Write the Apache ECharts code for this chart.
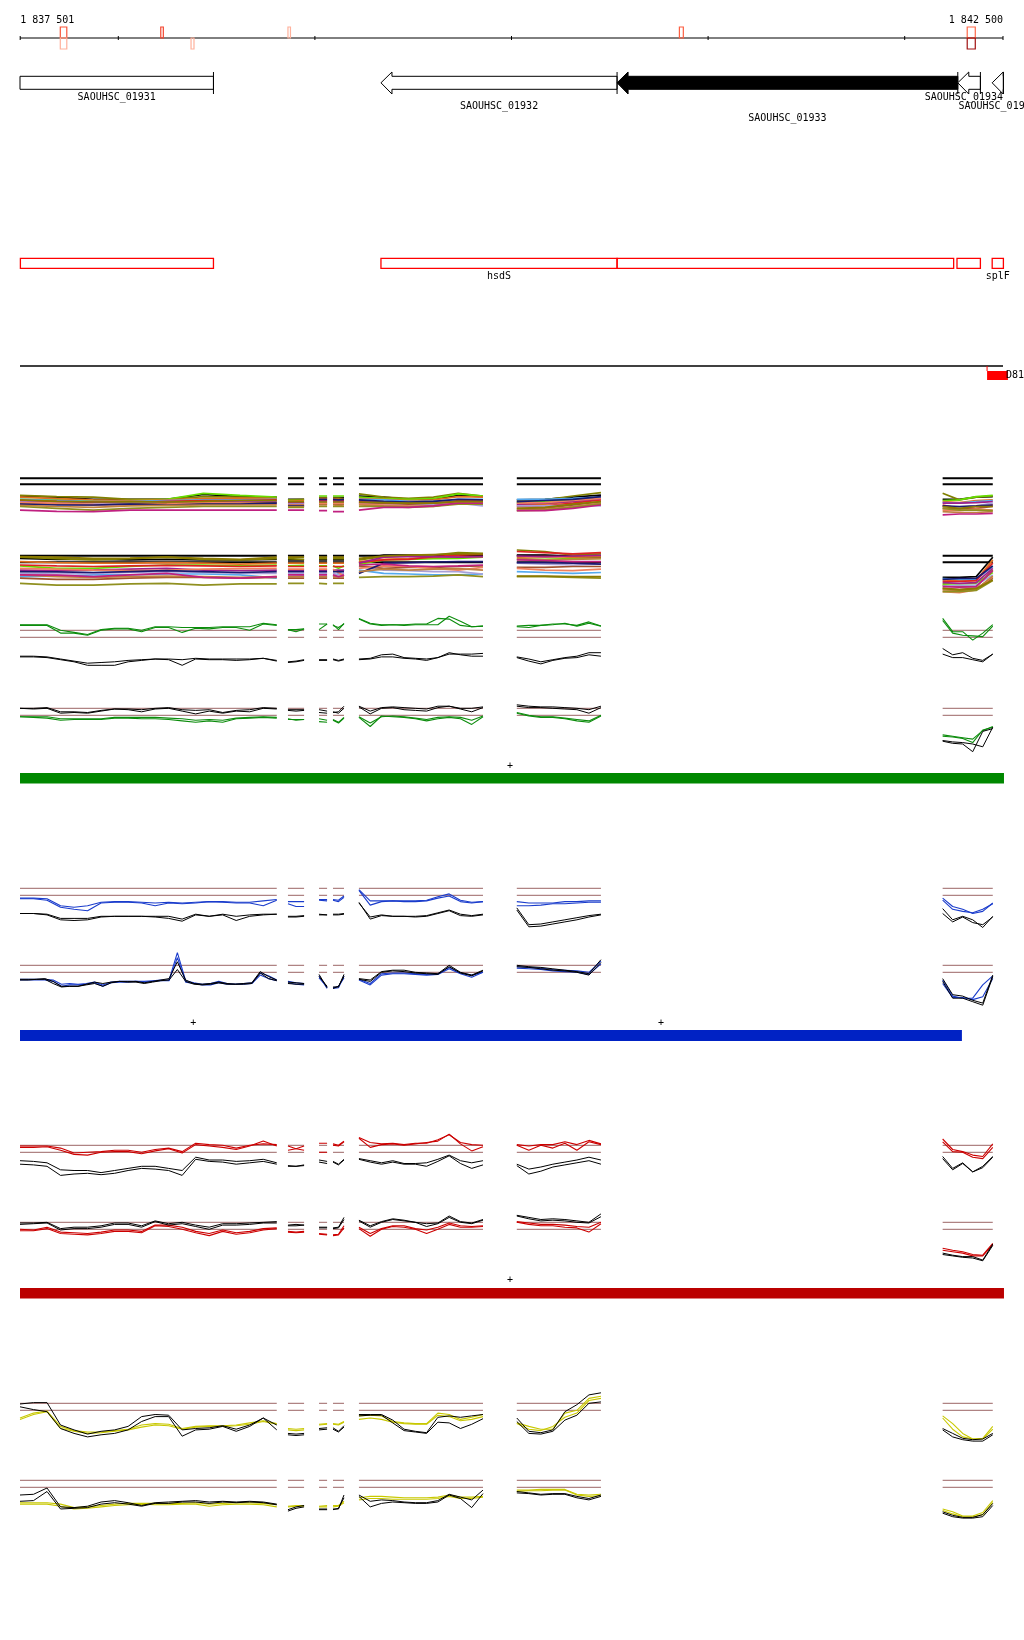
<!DOCTYPE html>
<html><head><meta charset="utf-8">
<script src="https://cdn.jsdelivr.net/npm/echarts@6/dist/echarts.min.js"></script>
<style>html,body{margin:0;padding:0;background:#fff}#c{width:1024px;height:1640px}</style>
</head><body><div id="c"></div>
<script>
// ---------------- DATA ----------------
const VIEW = [1837500, 1842500];
const TICKS = [1837501, 1838000, 1839000, 1840000, 1841000, 1842000, 1842500];
const TICK_LABELS = ['1 837 501', '', '', '', '', '', '1 842 500'];

const SIGNAL_START = [1837705, 1838216, 1838370, 1838863, 1840854, 1842318];
const SIGNAL_END   = [1837738, 1838229, 1838385, 1838875, 1840874, 1842359];
const SIGNAL_FWD   = [0.6, 0.7, 0, 0.2, 0.55, 0.5];
const SIGNAL_REV   = [0.2, 0, 0.2, 0, 0, 1.0];

const GENE_NAMES  = ['SAOUHSC_01931', 'SAOUHSC_01932', 'SAOUHSC_01933', 'SAOUHSC_01934', 'SAOUHSC_01935'];
const GENE_START  = [1837400, 1839336, 1840537, 1842270, 1842445];
const GENE_END    = [1838484, 1840537, 1842270, 1842385, 1842502];
const GENE_STRAND = [-1, -1, -1, -1, -1];
const GENE_HIGHLIGHT = [0, 0, 1, 0, 0];
const GENE_LABEL_LEVEL = [0, 1, 2, 0, 1];

const FEAT_START = [1837502, 1839336, 1840537, 1842266, 1842445];
const FEAT_END   = [1838484, 1840537, 1842249, 1842385, 1842502];
const FEAT_LABEL = ['', 'hsdS', '', '', 'splF'];

const REGION_START = [1842419];
const REGION_END   = [1842525];
const REGION_LABEL = ['D81'];

const BAR_START = [1837500, 1837500, 1837500];
const BAR_END   = [1842505, 1842291, 1842505];
const PLUS_POS  = [1839992, 1838381, 1840760, 1839992];

const SEG_START = [1837500, 1838863, 1839021, 1839092, 1839224, 1840027, 1842193];
const SEG_END   = [1838806, 1838945, 1839062, 1839148, 1839855, 1840455, 1842448];

// green panel a
const GA_C1 = [[1.8,1.8,1.8,1.0,0.7,0.4,1.1,1.3,1.3,1.0,1.5,1.5,1.4,1.4,1.4,1.5,1.5,1.5,2.0,1.8],[1.1,1.1,1.2],[1.9,1.9],[1.8,1.1,2.0],[2.7,2.0,1.8,1.8,1.8,1.9,1.9,2.7,2.6,1.7,1.5,1.6],[1.6,1.7,1.7,1.9,1.9,1.7,2.2,1.6],[2.7,0.8,0.8,-0.4,0.6,1.8]];
const GA_C2 = [[1.7,1.7,1.7,0.6,0.6,0.3,1.0,1.2,1.2,0.8,1.4,1.4,0.7,1.3,1.2,1.4,1.4,1.0,1.9,1.7],[1.1,0.8,1.2],[1.1,1.9],[1.7,1.4,1.9],[2.6,1.9,1.7,1.8,1.7,1.8,1.8,1.8,3.0,2.3,1.5,1.6],[1.5,1.4,1.7,1.8,2.0,1.6,2.0,1.6],[2.4,0.6,0.3,0.2,0.1,1.6]];
const GA_K1 = [[-2.7,-2.7,-2.8,-3.1,-3.4,-3.7,-3.6,-3.5,-3.3,-3.2,-3.1,-3.1,-3.2,-3.0,-3.1,-3.1,-3.1,-3.1,-3.0,-3.3],[-3.5,-3.4,-3.2],[-3.2,-3.2],[-3.1,-3.3,-3.1],[-3.1,-3.0,-2.5,-2.4,-2.9,-3.0,-3.1,-2.9,-2.4,-2.4,-2.4,-2.3],[-2.8,-3.1,-3.5,-3.2,-2.9,-2.7,-2.2,-2.2],[-1.6,-2.5,-2.2,-3.0,-3.3,-2.4]];
const GA_K2 = [[-2.8,-2.8,-2.9,-3.2,-3.5,-4.0,-4.0,-4.0,-3.5,-3.3,-3.1,-3.2,-4.0,-3.1,-3.2,-3.2,-3.3,-3.2,-3.0,-3.4],[-3.6,-3.5,-3.3],[-3.3,-3.3],[-3.2,-3.4,-3.2],[-3.2,-3.1,-2.8,-2.8,-3.0,-3.1,-3.3,-2.9,-2.2,-2.5,-2.7,-2.7],[-2.9,-3.4,-3.8,-3.3,-3.0,-2.9,-2.5,-2.7],[-2.4,-2.9,-2.9,-3.2,-3.5,-2.4]];
// green panel b
const GB_C1 = [[-0.2,-0.2,-0.2,-0.5,-0.5,-0.5,-0.5,-0.3,-0.3,-0.3,-0.3,-0.4,-0.5,-0.7,-0.6,-0.7,-0.4,-0.3,-0.2,-0.3],[-0.6,-0.6,-0.6],[-0.5,-0.7],[-0.6,-1.0,-0.3],[-0.2,-1.1,-0.2,-0.1,-0.2,-0.4,-0.6,-0.3,-0.2,-0.3,-0.7,-0.1],[0.4,0.0,-0.2,-0.2,-0.4,-0.6,-0.8,0.0],[-2.8,-3.0,-3.2,-3.4,-2.2,-1.6]];
const GB_C2 = [[-0.2,-0.3,-0.4,-0.7,-0.6,-0.6,-0.6,-0.4,-0.4,-0.5,-0.5,-0.6,-0.8,-1.0,-0.8,-1.0,-0.5,-0.4,-0.3,-0.4],[-0.5,-0.7,-0.6],[-0.9,-1.0],[-0.7,-1.1,-0.4],[-0.3,-1.6,-0.1,-0.2,-0.3,-0.5,-0.8,-0.5,-0.3,-0.5,-1.3,-0.2],[0.3,-0.1,-0.3,-0.3,-0.5,-0.8,-1.0,-0.1],[-3.0,-3.1,-3.3,-3.9,-2.1,-1.7]];
const GB_K1 = [[1.0,1.0,1.1,0.5,0.5,0.4,0.7,0.9,0.9,0.8,1.0,1.1,0.8,0.7,0.8,0.4,0.7,0.8,1.1,1.0],[0.8,0.8,0.8],[0.8,0.6],[0.4,0.5,1.3],[1.3,0.6,1.1,1.2,1.1,1.0,0.9,1.3,1.3,1.0,1.0,1.2],[1.5,1.3,1.2,1.2,1.1,1.0,0.8,1.3],[-3.6,-3.8,-3.9,-4.1,-4.5,-1.7]];
const GB_K2 = [[1.0,0.9,1.0,0.3,0.4,0.3,0.6,0.9,0.8,0.5,0.9,1.0,0.6,0.2,0.6,0.3,0.6,0.5,1.0,0.9],[0.7,0.6,0.7],[0.4,0.3],[0.5,0.3,1.0],[1.2,0.2,1.0,1.1,0.8,0.7,0.6,1.1,1.3,0.9,0.5,1.1],[1.3,1.1,1.1,1.0,0.9,0.8,0.3,1.1],[-3.7,-4.0,-4.1,-5.2,-2.3,-1.9]];
// blue panel a
const BA_C1 = [[-0.4,-0.4,-0.5,-1.5,-1.7,-1.5,-1.0,-0.9,-0.9,-1.0,-1.1,-1.0,-1.1,-1.0,-0.9,-0.9,-1.0,-1.0,-0.8,-0.6],[-0.9,-0.9,-0.9],[-0.6,-0.6],[-0.6,-0.7,-0.1],[0.8,-0.8,-0.8,-0.8,-0.8,-0.8,-0.7,-0.2,0.2,-0.7,-1.0,-0.9],[-0.9,-1.1,-1.1,-1.1,-0.9,-0.9,-0.8,-0.8],[-0.4,-1.6,-2.0,-2.6,-2.3,-1.1]];
const BA_C2 = [[-0.5,-0.5,-0.7,-1.7,-2.0,-2.2,-1.1,-1.0,-1.0,-1.1,-1.5,-1.1,-1.2,-1.1,-0.9,-1.0,-1.1,-1.1,-1.5,-0.7],[-1.2,-1.6,-1.6],[-0.7,-0.8],[-0.7,-0.9,-0.3],[0.7,-1.4,-0.9,-0.8,-0.9,-0.9,-0.8,-0.4,-0.1,-0.9,-1.1,-0.9],[-1.5,-1.5,-1.4,-1.2,-1.2,-1.1,-1.0,-1.0],[-0.7,-2.0,-2.3,-2.5,-2.0,-1.2]];
const BA_K1 = [[-2.6,-2.6,-2.7,-3.3,-3.3,-3.3,-3.0,-3.0,-3.0,-3.0,-3.0,-3.0,-3.4,-2.7,-3.0,-2.7,-3.0,-2.8,-2.7,-2.7],[-3.0,-3.0,-2.9],[-2.7,-2.8],[-2.7,-2.7,-2.6],[-1.1,-3.1,-2.8,-3.0,-3.0,-3.0,-2.9,-2.5,-2.1,-2.7,-2.9,-2.7],[-1.8,-4.2,-4.1,-3.8,-3.5,-3.2,-2.9,-2.7],[-1.9,-3.5,-3.0,-3.5,-4.6,-3.0]];
const BA_K2 = [[-2.6,-2.6,-2.8,-3.5,-3.6,-3.5,-3.1,-3.0,-3.0,-3.0,-3.1,-3.3,-3.7,-2.8,-3.0,-2.8,-3.6,-3.0,-2.8,-2.7],[-3.1,-3.1,-3.0],[-2.8,-2.8],[-2.8,-2.8,-2.7],[-1.0,-3.4,-2.9,-3.0,-3.0,-3.1,-3.0,-2.6,-2.2,-2.9,-3.0,-2.8],[-2.1,-4.5,-4.4,-4.1,-3.8,-3.5,-3.1,-2.8],[-2.6,-3.8,-3.1,-3.9,-4.2,-3.1]];
// blue panel b
const BB_C1 = [[-1.0,-1.0,-1.0,-1.0,-1.1,-1.7,-1.6,-1.7,-1.6,-1.4,-1.8,-1.4,-1.3,-1.3,-1.3,-1.3,-1.2,-1.1,-1.1,2.8,-1.2,-1.5,-1.7,-1.6,-1.3,-1.6,-1.7,-1.6,-1.5,-0.1,-0.5,-1.1],[-1.3,-1.5,-1.6],[-0.5,-2.3],[-2.3,-2.2,-0.5],[-1.0,-1.6,-0.2,-0.1,-0.1,-0.2,-0.3,-0.2,0.7,-0.1,-0.4,0.0],[0.8,0.7,0.6,0.4,0.3,0.2,0.0,1.6],[-1.1,-3.4,-3.7,-3.7,-1.8,-0.5]];
const BB_C2 = [[-1.1,-1.1,-1.1,-1.1,-1.3,-2.0,-1.8,-1.8,-1.7,-1.5,-2.0,-1.5,-1.4,-1.4,-1.3,-1.4,-1.3,-1.2,-1.2,2.1,-1.4,-1.6,-1.8,-1.8,-1.5,-1.7,-1.7,-1.7,-1.6,-0.4,-0.9,-1.2],[-1.5,-1.7,-1.8],[-0.8,-2.1],[-2.2,-2.0,-0.8],[-1.1,-1.8,-0.4,-0.2,-0.2,-0.3,-0.4,-0.3,0.5,-0.2,-0.7,0.0],[0.6,0.5,0.4,0.2,0.1,0.0,-0.3,1.2],[-1.6,-3.6,-3.6,-3.9,-3.5,-0.9]];
const BB_K1 = [[-1.0,-1.0,-1.0,-0.9,-1.3,-2.0,-2.0,-2.0,-1.7,-1.4,-1.6,-1.4,-1.3,-1.3,-1.3,-1.5,-1.3,-1.1,-0.9,1.5,-1.1,-1.6,-1.7,-1.6,-1.4,-1.6,-1.7,-1.6,-1.5,0.1,-0.6,-1.1],[-1.4,-1.5,-1.6],[-0.3,-2.2],[-2.1,-2.1,-0.3],[-0.9,-1.1,0.1,0.3,0.3,0.0,-0.1,-0.2,1.0,0.0,-0.4,0.3],[1.0,0.8,0.7,0.5,0.3,0.1,-0.2,1.8],[-0.9,-3.2,-3.4,-4.0,-4.4,-0.4]];
const BB_K2 = [[-1.1,-1.1,-1.0,-1.0,-1.6,-2.1,-2.0,-2.0,-1.8,-1.6,-2.0,-1.5,-1.3,-1.4,-1.4,-1.6,-1.4,-1.2,-1.1,0.4,-1.3,-1.7,-1.8,-1.7,-1.5,-1.7,-1.7,-1.7,-1.6,-0.1,-0.9,-1.2],[-1.6,-1.7,-1.7],[-0.6,-2.0],[-2.3,-2.0,-0.6],[-1.0,-1.3,0.0,0.2,0.1,-0.1,-0.2,-0.3,0.8,-0.1,-0.5,0.2],[0.8,0.7,0.5,0.3,0.2,0.0,-0.4,1.4],[-1.3,-3.7,-3.7,-4.2,-4.7,-0.6]];
// red panel a
const RA_C1 = [[0.9,0.9,0.9,0.6,-0.1,0.0,0.1,0.3,0.3,0.0,0.4,0.6,0.1,1.3,1.1,1.0,0.6,1.0,1.2,1.1],[0.9,0.5,0.3],[1.3,1.3],[1.2,1.0,1.6],[2.1,1.4,1.2,1.3,1.1,1.3,1.3,1.8,2.5,1.4,1.1,1.0],[1.1,0.9,1.1,1.1,1.5,1.1,1.7,1.2],[1.9,0.4,0.1,-0.4,-0.6,1.2]];
const RA_C2 = [[0.7,0.7,0.8,0.3,-0.3,-0.4,0.0,0.1,0.1,-0.2,0.2,0.5,-0.1,1.1,0.9,0.7,0.4,0.9,1.6,0.9],[0.3,0.5,0.9],[0.0,0.0],[1.0,0.9,1.5],[2.0,0.7,1.1,1.2,1.0,1.2,1.4,1.6,2.6,1.2,0.2,0.8],[1.0,0.3,1.0,0.6,1.3,0.3,1.5,1.1],[1.5,0.1,0.0,-0.7,-0.9,0.7]];
const RA_K1 = [[-1.2,-1.3,-1.5,-2.5,-2.6,-2.6,-2.9,-2.6,-2.3,-2.0,-2.0,-2.3,-2.6,-0.7,-1.1,-1.1,-1.3,-1.2,-1.0,-1.5],[-1.9,-2.0,-1.9],[-1.1,-1.3],[-1.3,-1.7,-1.0],[-0.9,-1.2,-1.5,-1.2,-1.6,-1.6,-1.5,-1.0,-0.4,-1.2,-1.5,-1.2],[-1.7,-2.4,-2.1,-1.7,-1.4,-1.1,-0.7,-1.1],[-0.6,-2.3,-1.5,-2.8,-2.0,-0.6]];
const RA_K2 = [[-1.7,-1.8,-2.0,-3.3,-3.1,-3.0,-3.2,-3.0,-2.6,-2.3,-2.4,-2.6,-3.3,-1.0,-1.3,-1.4,-1.7,-1.5,-1.3,-1.7],[-2.0,-2.0,-1.8],[-1.4,-1.6],[-1.4,-1.8,-1.1],[-1.0,-1.4,-1.7,-1.4,-1.7,-1.7,-2.0,-1.3,-0.5,-1.6,-2.3,-1.8],[-1.9,-3.1,-2.7,-2.1,-1.8,-1.5,-1.2,-1.7],[-0.9,-2.5,-1.6,-2.8,-2.2,-0.7]];
// red panel b
const RB_C1 = [[0.0,-0.1,0.3,-0.4,-0.5,-0.6,-0.4,-0.1,-0.1,-0.3,0.6,0.6,0.3,-0.3,-0.6,-0.1,-0.5,-0.3,0.1,0.2],[-0.3,-0.4,-0.3],[-0.6,-0.7],[-0.8,-0.7,0.5],[0.3,-0.6,0.1,0.5,0.5,0.1,-0.1,0.3,0.9,0.5,0.4,0.5],[1.1,0.9,0.7,0.7,0.6,0.4,0.3,1.0],[-2.7,-3.0,-3.2,-3.6,-3.7,-2.0]];
const RB_C2 = [[-0.2,-0.2,0.1,-0.6,-0.7,-0.8,-0.6,-0.3,-0.3,-0.5,0.5,0.4,0.0,-0.5,-0.9,-0.3,-0.7,-0.5,-0.1,0.1],[-0.4,-0.5,-0.4],[-0.7,-0.8],[-0.9,-0.8,0.2],[0.1,-1.0,0.0,0.4,0.3,0.0,-0.6,0.0,0.7,0.3,0.3,0.4],[1.0,0.7,0.5,0.5,0.3,0.2,-0.4,0.8],[-3.0,-3.2,-3.4,-3.8,-3.8,-2.2]];
const RB_K1 = [[0.9,0.9,1.0,0.1,0.3,0.3,0.5,0.9,0.9,0.5,1.2,0.8,1.0,0.6,0.3,0.8,0.8,0.9,1.0,1.1],[0.6,0.7,0.6],[0.3,0.3],[0.2,0.3,1.7],[1.3,0.5,1.1,1.5,1.3,1.0,0.8,0.9,1.9,1.1,0.9,1.4],[2.0,1.7,1.4,1.5,1.4,1.2,1.0,2.2],[-3.4,-3.7,-3.9,-3.9,-4.4,-2.1]];
const RB_K2 = [[0.7,0.8,0.9,-0.1,0.1,0.1,0.3,0.7,0.7,0.3,1.1,0.6,0.8,0.4,0.0,0.6,0.6,0.7,0.9,0.9],[0.5,0.5,0.6],[0.2,0.2],[0.1,0.2,1.4],[1.2,0.3,1.0,1.4,1.2,1.0,0.4,0.8,1.7,1.0,0.8,1.3],[1.9,1.5,1.2,1.3,1.2,1.0,0.9,1.8],[-3.6,-3.8,-4.0,-4.1,-4.5,-2.3]];
// yellow panel a
const YA_C1 = [[-1.1,-0.4,-0.1,-2.3,-2.9,-3.1,-3.1,-2.9,-2.7,-2.1,-1.9,-2.0,-2.6,-2.3,-2.2,-2.2,-2.1,-1.8,-1.5,-1.9],[-2.6,-2.7,-2.6],[-2.0,-1.9],[-1.9,-2.0,-1.6],[-0.8,-0.7,-0.8,-1.6,-1.8,-1.9,-1.9,-0.4,-0.6,-1.3,-1.0,-0.6],[-1.8,-2.3,-2.7,-2.7,-0.4,0.0,1.7,2.0],[-0.8,-1.9,-3.3,-4.1,-4.0,-2.3]];
const YA_C2 = [[-1.3,-0.6,-0.2,-2.6,-3.0,-3.3,-3.2,-3.0,-2.8,-2.4,-2.1,-2.2,-2.7,-2.4,-2.3,-2.3,-2.2,-2.0,-1.6,-2.0],[-2.8,-2.9,-2.8],[-2.1,-2.0],[-2.0,-2.1,-1.7],[-1.3,-1.1,-1.3,-1.7,-1.9,-2.0,-2.0,-0.7,-0.9,-1.5,-1.3,-0.9],[-1.9,-2.7,-2.9,-2.3,-1.0,-0.4,1.4,1.7],[-1.1,-2.7,-3.8,-4.1,-4.1,-2.7]];
const YA_K1 = [[0.9,1.1,1.1,-2.1,-2.8,-3.4,-3.0,-2.8,-2.3,-0.9,-0.6,-0.7,-2.8,-2.6,-2.5,-2.2,-2.7,-2.1,-1.1,-2.8],[-3.3,-3.4,-3.3],[-2.6,-2.5],[-2.5,-3.0,-2.2],[-0.6,-0.6,-0.6,-1.4,-2.7,-3.0,-3.2,-1.0,-0.8,-1.0,-0.8,-0.6],[-1.1,-3.0,-3.2,-2.8,-0.2,0.8,2.2,2.5],[-2.6,-3.3,-4.0,-4.2,-4.1,-3.3]];
const YA_K2 = [[0.5,0.1,-0.2,-2.6,-3.3,-3.8,-3.5,-3.3,-2.8,-1.6,-0.9,-0.9,-3.7,-2.8,-2.7,-2.3,-3.0,-2.3,-1.1,-2.1],[-3.5,-3.6,-3.5],[-2.8,-2.7],[-2.7,-3.1,-2.4],[-0.8,-0.7,-0.7,-1.8,-2.9,-3.1,-3.3,-1.7,-1.8,-2.6,-2.0,-1.2],[-1.6,-3.3,-3.4,-3.0,-1.4,-0.7,1.0,1.2],[-2.8,-3.8,-4.2,-4.4,-4.4,-3.5]];
// yellow panel b
const YB_C1 = [[-2.2,-2.2,-2.2,-2.4,-2.9,-2.8,-2.6,-2.4,-2.3,-2.3,-2.3,-2.3,-2.3,-2.2,-2.4,-2.3,-2.2,-2.2,-2.3,-2.5],[-2.7,-2.6,-2.6],[-2.7,-2.6],[-2.6,-2.6,-2.0],[-1.5,-1.3,-1.3,-1.4,-1.5,-1.5,-1.5,-1.4,-1.1,-1.4,-1.4,-1.3],[-0.4,-0.4,-0.3,-0.3,-0.3,-1.0,-1.1,-1.0],[-3.1,-3.5,-4.1,-4.1,-3.6,-1.9]];
const YB_C2 = [[-2.4,-2.4,-2.4,-2.7,-3.1,-3.0,-2.8,-2.6,-2.5,-2.4,-2.5,-2.5,-2.4,-2.4,-2.7,-2.5,-2.4,-2.4,-2.5,-2.8],[-2.8,-2.7,-2.7],[-2.8,-2.8],[-2.8,-2.7,-2.2],[-1.8,-1.6,-1.6,-1.7,-1.7,-1.7,-1.7,-1.6,-1.3,-1.6,-1.6,-1.4],[-0.6,-0.5,-0.5,-0.4,-0.4,-1.1,-1.3,-1.2],[-3.3,-3.8,-4.2,-4.2,-3.9,-2.2]];
const YB_K1 = [[-1.1,-1.0,-0.1,-2.8,-2.9,-2.7,-2.1,-1.9,-2.2,-2.6,-2.2,-2.1,-2.0,-1.9,-2.1,-2.0,-2.1,-2.0,-2.1,-2.4],[-3.2,-2.8,-2.6],[-3.1,-3.1],[-3.1,-3.1,-1.1],[-1.1,-2.0,-1.8,-1.9,-2.1,-2.2,-2.2,-1.9,-1.0,-1.4,-1.8,-0.4],[-0.6,-0.8,-1.0,-0.9,-0.9,-1.3,-1.6,-1.1],[-3.5,-4.0,-4.3,-4.3,-3.9,-2.3]];
const YB_K2 = [[-2.0,-1.9,-0.6,-3.1,-3.0,-2.9,-2.4,-2.2,-2.4,-2.7,-2.3,-2.3,-2.1,-2.1,-2.3,-2.1,-2.2,-2.1,-2.2,-2.5],[-3.4,-3.0,-2.8],[-3.2,-3.2],[-3.2,-3.0,-1.5],[-1.3,-2.8,-2.3,-2.1,-2.2,-2.3,-2.3,-2.1,-1.1,-1.6,-2.9,-0.9],[-0.8,-0.9,-1.1,-1.0,-1.0,-1.5,-1.8,-1.3],[-3.7,-4.2,-4.4,-4.4,-4.2,-2.6]];

// multi-profile track 1 (one array per segment, one row per profile)
const M1_A = [[-3.9,-4.3,-5.0,-5.0,-5.0,-3.4,-4.1,-4.3],[-3.7,-4.1,-4.3,-5.0,-5.0,-4.1,-4.3,-4.6],[-5.0,-5.2,-5.4,-5.4,-5.0,-3.0,-3.7,-4.3],[-4.3,-4.8,-5.2,-5.4,-5.2,-4.8,-4.6,-4.8],[-5.0,-5.4,-5.8,-5.8,-5.4,-5.2,-5.2,-5.0],[-5.4,-5.7,-5.9,-6.1,-5.7,-5.4,-5.4,-5.2],[-5.8,-6.1,-6.1,-6.1,-6.1,-5.9,-5.8,-5.7],[-5.9,-6.3,-6.6,-6.3,-6.1,-6.3,-6.1,-6.1],[-6.3,-6.6,-6.9,-6.6,-6.3,-6.3,-6.3,-6.1],[-6.1,-6.3,-6.7,-6.9,-6.6,-6.1,-6.3,-6.6],[-6.6,-6.9,-6.9,-6.6,-6.9,-6.6,-6.6,-6.3],[-7.0,-7.4,-7.7,-7.2,-7.0,-6.9,-6.9,-6.9],[-7.4,-8.0,-8.6,-8.0,-7.7,-7.4,-7.4,-7.4],[-8.6,-9.0,-9.1,-8.6,-8.6,-8.6,-8.6,-8.6],[-5.2,-5.7,-5.9,-5.8,-5.9,-5.7,-5.4,-5.4]];
const M1_B = [[-5.0,-5.0],[-5.2,-5.0],[-5.4,-5.4],[-5.7,-5.4],[-5.9,-5.9],[-6.1,-6.1],[-6.3,-6.3],[-6.6,-6.6],[-6.9,-6.9],[-7.0,-7.0],[-7.2,-7.2],[-7.4,-7.4],[-7.7,-7.7],[-8.6,-8.6],[-5.8,-5.8]];
const M1_C = [[-4.4,-4.4],[-4.6,-4.6],[-3.9,-3.9],[-4.8,-4.8],[-5.2,-5.2],[-5.4,-5.4],[-5.7,-5.7],[-6.1,-6.1],[-6.6,-6.6],[-6.3,-6.3],[-5.0,-5.0],[-6.9,-6.9],[-7.4,-7.4],[-8.8,-8.8],[-5.9,-5.9]];
const M1_D = [[-4.4,-4.4,-4.4],[-4.6,-4.6,-4.8],[-3.9,-3.9,-3.9],[-4.8,-5.0,-5.0],[-5.2,-5.4,-5.2],[-5.4,-5.7,-5.4],[-5.7,-5.9,-5.7],[-6.1,-6.3,-6.1],[-6.6,-6.6,-6.6],[-6.3,-6.3,-6.3],[-5.0,-5.2,-5.0],[-6.9,-7.0,-6.9],[-7.4,-7.4,-7.4],[-9.1,-9.1,-9.1],[-5.9,-5.9,-5.9]];
const M1_E = [[-3.9,-4.3,-5.0,-5.0,-3.7,-4.1],[-3.2,-4.3,-4.7,-4.3,-3.0,-3.9],[-4.3,-4.8,-5.0,-4.8,-3.2,-3.9],[-4.8,-5.0,-5.4,-5.2,-4.1,-4.3],[-5.0,-5.2,-5.7,-5.7,-5.0,-5.0],[-5.8,-6.1,-6.6,-6.9,-5.4,-5.4],[-5.4,-5.9,-6.1,-6.1,-5.8,-5.7],[-6.3,-6.6,-6.9,-6.6,-6.3,-7.2],[-6.1,-6.3,-6.6,-6.3,-5.9,-6.1],[-6.6,-6.9,-7.2,-7.4,-6.1,-6.3],[-5.2,-5.7,-5.9,-5.7,-5.0,-5.2],[-6.9,-7.2,-7.4,-7.2,-6.3,-6.6],[-7.4,-7.4,-7.7,-7.4,-6.6,-6.6],[-8.6,-7.7,-7.7,-7.2,-6.3,-6.3],[-5.9,-6.1,-6.3,-6.3,-5.7,-5.8]];
const M1_F = [[-5.2,-5.0,-4.3,-3.6],[-5.8,-5.2,-3.9,-2.8],[-6.1,-5.8,-5.2,-4.3],[-6.9,-6.6,-5.8,-5.0],[-5.0,-5.0,-4.7,-4.3],[-7.4,-7.2,-6.3,-5.2],[-6.6,-6.3,-5.7,-4.8],[-7.2,-7.2,-6.9,-7.2],[-8.0,-8.0,-6.9,-5.8],[-6.3,-6.1,-5.4,-4.7],[-5.8,-5.4,-5.0,-4.1],[-8.6,-8.3,-7.4,-6.3],[-8.8,-8.6,-7.7,-6.6],[-8.8,-8.8,-8.0,-6.9],[-8.0,-7.7,-6.6,-5.8]];
const M1_G = [[-5.0,-5.0,-4.3,-4.1],[-3.0,-5.2,-4.3,-3.9],[-5.4,-5.2,-4.1,-3.7],[-5.8,-6.1,-5.4,-5.2],[-6.1,-6.3,-5.8,-5.4],[-6.9,-8.0,-7.4,-6.9],[-6.3,-6.3,-6.1,-5.8],[-7.4,-7.7,-7.2,-6.3],[-8.0,-8.3,-8.0,-7.4],[-8.6,-8.8,-8.3,-8.6],[-7.2,-7.4,-7.2,-6.9],[-9.1,-9.4,-9.4,-9.1],[-8.0,-8.6,-8.6,-8.8],[-10.2,-9.9,-9.9,-9.7],[-7.4,-8.0,-7.4,-7.4]];
// multi-profile track 2
const M2_A = [[1.3,1.0,1.0,0.8,1.0,0.8,0.8,1.0],[1.7,1.2,0.8,1.2,1.7,1.0,0.8,1.2],[-1.2,-2.0,-2.0,-1.4,-0.9,-0.9,-1.2,-0.9],[0.2,-0.1,-0.3,-0.3,-0.1,-0.3,-0.6,-0.3],[-4.8,-4.6,-4.2,-4.2,-3.9,-3.9,-4.2,-5.3],[-0.9,-1.2,-1.4,-1.2,-1.0,-1.2,-1.4,-1.2],[-2.6,-2.8,-2.6,-2.3,-2.0,-2.6,-2.8,-2.6],[-3.7,-3.9,-3.7,-3.4,-3.1,-3.4,-3.7,-3.7],[-5.3,-5.7,-5.7,-5.3,-5.0,-5.0,-5.3,-5.0],[-2.0,-2.3,-2.6,-2.8,-2.6,-2.3,-2.1,-2.0],[-3.1,-3.2,-3.4,-3.1,-2.8,-3.1,-3.4,-3.1],[-4.2,-4.8,-5.0,-4.8,-4.6,-4.8,-5.0,-4.8],[-7.0,-7.6,-7.6,-7.2,-7.0,-7.6,-7.2,-7.2],[-4.2,-4.3,-4.8,-4.2,-3.7,-5.0,-5.3,-4.8],[1.9,1.7,1.3,1.4,1.7,1.3,1.0,1.7]];
const M2_B = [[0.8,0.8],[1.2,1.0],[-1.2,-1.0],[-0.3,-0.3],[-4.8,-4.6],[-1.4,-1.4],[-2.6,-2.6],[-3.7,-3.7],[-5.3,-5.3],[-2.3,-2.3],[-3.1,-3.1],[-4.8,-4.8],[-7.0,-7.0],[-4.2,-4.2],[1.7,1.7]];
const M2_C = [[0.8,0.8],[1.2,1.2],[-1.2,-1.2],[-0.3,-0.3],[-4.8,-4.8],[-1.4,-1.4],[-2.6,-2.6],[-3.7,-3.7],[-5.3,-5.3],[-2.3,-2.3],[-3.1,-3.1],[-4.8,-4.8],[-7.0,-7.2],[-4.2,-4.2],[1.7,1.7]];
const M2_D = [[0.8,0.8,0.8],[1.2,1.2,1.2],[-1.2,-2.0,-1.2],[-0.3,-0.3,-0.3],[-4.8,-3.7,-2.6],[-1.4,-1.4,-1.4],[-2.6,-2.6,-2.6],[-3.7,-4.2,-3.7],[-5.3,-5.3,-5.3],[-2.3,-3.4,-4.6],[-3.1,-3.1,-3.1],[-4.8,-4.8,-4.8],[-7.0,-7.0,-7.0],[-4.2,-4.8,-4.2],[1.7,1.7,1.7]];
const M2_E = [[1.0,2.4,2.4,2.4,2.4,2.4],[0.8,1.9,2.1,2.4,3.2,3.0],[-0.6,0.8,1.0,1.2,1.3,1.7],[0.2,1.0,1.2,1.6,1.9,1.9],[-2.6,-3.7,-3.9,-4.2,-4.2,-3.9],[-0.1,0.8,1.0,1.9,2.4,2.8],[-0.3,1.7,1.9,1.9,1.7,1.9],[-1.4,-2.6,-2.8,-3.1,-3.1,-3.9],[-1.2,-2.0,-1.7,-1.7,-1.4,-1.2],[-2.0,-1.2,-1.4,-2.0,-2.6,-1.7],[-3.7,-0.3,-0.1,0.1,0.2,0.2],[-3.1,-2.3,-2.6,-2.3,-2.1,-2.6],[-5.0,-4.8,-4.8,-4.6,-4.2,-4.8],[-0.9,-0.6,-1.2,-1.4,-1.2,-0.9],[1.3,2.1,2.4,2.6,2.8,2.8]];
const M2_F = [[2.4,2.4,1.9,1.7],[4.1,3.6,2.4,2.8],[1.0,1.0,1.2,1.3],[1.7,1.9,1.7,1.9],[-3.1,-3.4,-3.7,-3.4],[3.6,3.2,2.8,3.2],[2.1,1.9,2.1,2.3],[-0.3,-0.6,-0.9,-0.6],[-1.7,-1.7,-1.4,-1.4],[-2.0,-2.6,-2.8,-2.3],[-0.1,-0.1,-0.3,-0.6],[1.3,0.8,1.0,1.2],[-4.8,-4.8,-5.0,-5.3],[0.8,0.6,0.2,0.2],[-4.6,-4.6,-4.8,-4.8]];
const M2_G = [[-5.0,-5.0,-4.8,1.7],[-7.6,-8.1,-8.1,-2.6],[-7.2,-7.2,-7.0,-3.4],[-5.9,-6.1,-6.1,0.8],[-5.4,-5.7,-5.7,-1.4],[-6.4,-6.4,-6.1,-0.3],[-6.8,-7.0,-6.8,-2.0],[-7.9,-7.7,-7.6,-4.2],[-8.7,-9.0,-8.7,-5.3],[-9.8,-10.1,-9.2,-4.8],[-5.7,-5.4,-5.4,-1.2],[-9.2,-9.4,-9.0,-4.6],[-9.8,-9.8,-9.4,-6.1],[-8.1,-8.3,-8.1,-2.8],[-8.7,-9.2,-8.8,-5.9]];
const M1_REF = [0, 2.0];
const M2_REF = [0, 2.2];
const PANEL_REF = [0, 1];

// ---------------- STYLE / LAYOUT ----------------
const M_COLORS = ['#000000','#808000','#66dd00','#e07020','#55aaee','#dd2222','#a0208c','#a8a0d8','#a0522d','#f08060','#1a1a70','#c08040','#909020','#c02080','#8b7a00'];
const MONO = '10px "DejaVu Sans Mono"';
const L = {scaleY:38, scaleLabelY:20.5, sigTop:27, sigBot:49, geneHeadTop:72, geneHeadBot:94, geneBodyTop:76.3, geneBodyBot:89.3,
  labelY:[97, 106, 118], featTop:258.3, featBot:268.3, featLabelY:276, regionLineY:366, regionTop:371, regionBot:380, regionLabelY:375.5,
  barTop:[773, 1030, 1288], barH:[10.5, 11, 10.5], plusY:[766.5, 1023, 1023, 1280.5]};
const BAR_COLORS = ['#008800', '#0022c4', '#bb0000'];
const BROWN = '#9b6464';

function heat(v){
  const st=[[0,[255,225,212]],[0.5,[255,104,72]],[0.8,[238,51,34]],[1,[160,16,16]]];
  for(let i=1;i<st.length;i++){ if(v<=st[i][0]){ const a=st[i-1],b=st[i],t=(v-a[0])/(b[0]-a[0]);
    const c=a[1].map((x,k)=>Math.round(x+(b[1][k]-x)*t)); return 'rgb('+c.join(',')+')'; } }
  return 'rgb(160,16,16)';
}
function segLine(segs){
  const out=[];
  segs.forEach((vals,k)=>{ const s=SEG_START[k], e=SEG_END[k], n=vals.length;
    vals.forEach((v,i)=>out.push([s+(e-s)*i/(n-1), v])); out.push([e, null]); });
  return out;
}
function refLine(v){ return segLine(SEG_START.map(()=>[v, v])); }

const chart = echarts.init(document.getElementById('c'), null, {renderer:'canvas'});
const grids=[{left:20,right:21,top:0,height:1640}], xAxes=[], yAxes=[], series=[];
xAxes.push({type:'value',gridIndex:0,min:VIEW[0],max:VIEW[1],show:false});
yAxes.push({type:'value',gridIndex:0,min:0,max:1640,inverse:true,show:false});

function addGrid(top,h,mn,mx){ const gi=grids.length; grids.push({left:20,right:21,top,height:h});
  xAxes.push({type:'value',gridIndex:gi,min:VIEW[0],max:VIEW[1],show:false});
  yAxes.push({type:'value',gridIndex:gi,min:mn,max:mx,show:false}); return gi; }
function addLine(gi,data,color,w){ series.push({type:'line',xAxisIndex:gi,yAxisIndex:gi,data,symbol:'none',showSymbol:false,
  connectNulls:false,silent:true,animation:false,lineStyle:{width:w,color},itemStyle:{color},z:2}); }

// multi-profile tracks
[[484.3, [M1_A,M1_B,M1_C,M1_D,M1_E,M1_F,M1_G], M1_REF],[562.3,[M2_A,M2_B,M2_C,M2_D,M2_E,M2_F,M2_G], M2_REF]].forEach(([zero,segs,refs])=>{
  const gi=addGrid(zero-18,54,-12,6);
  refs.forEach(r=>addLine(gi,refLine(r),'#000',2));
  for(let p=0;p<segs[0].length;p++){ addLine(gi, segLine(segs.map(s=>s[p])), M_COLORS[p], 1.7); }
});
// profile panels
const PANELS=[[637.3,'#0c8c0c',GA_C1,GA_C2,GA_K1,GA_K2],[715.3,'#0c8c0c',GB_C1,GB_C2,GB_K1,GB_K2],
  [895.3,'#1a3ccc',BA_C1,BA_C2,BA_K1,BA_K2],[972.3,'#1a3ccc',BB_C1,BB_C2,BB_K1,BB_K2],
  [1152.3,'#cc0000',RA_C1,RA_C2,RA_K1,RA_K2],[1229.3,'#cc0000',RB_C1,RB_C2,RB_K1,RB_K2],
  [1410.3,'#c8c800',YA_C1,YA_C2,YA_K1,YA_K2],[1487.3,'#c8c800',YB_C1,YB_C2,YB_K1,YB_K2]];
PANELS.forEach(([zero,col,c1,c2,k1,k2])=>{
  const gi=addGrid(zero-28,84,-8,4);
  PANEL_REF.forEach(r=>addLine(gi,refLine(r),BROWN,1));
  addLine(gi,segLine(c1),col,1.1); addLine(gi,segLine(c2),col,1.1);
  addLine(gi,segLine(k1),'#000',1); addLine(gi,segLine(k2),'#000',1);
});

function txt(text,x,y,align){ return {type:'text',style:{text,x,y,font:MONO,fill:'#000',align,verticalAlign:'middle',textAlign:align,textVerticalAlign:'middle'}}; }
function custom(data,renderItem,clip){ series.push({type:'custom',xAxisIndex:0,yAxisIndex:0,data,renderItem,clip:!!clip,silent:true,animation:false,z:5,encode:{x:0,y:1}}); }

// scale
custom(TICKS.map((t,i)=>[t,i]),(p,api)=>{
  const i=p.dataIndex, x=api.coord([TICKS[i],0])[0], y=api.coord([VIEW[0],L.scaleY])[1]; const ch=[];
  if(i===0){ const a=api.coord([VIEW[0],L.scaleY]), b=api.coord([VIEW[1],L.scaleY]);
    ch.push({type:'line',shape:{x1:a[0],y1:y,x2:b[0],y2:y},style:{stroke:'#000',lineWidth:1}}); }
  ch.push({type:'line',shape:{x1:x,y1:y-2,x2:x,y2:y+2},style:{stroke:'#000',lineWidth:1}});
  if(TICK_LABELS[i]) ch.push(txt(TICK_LABELS[i],x,api.coord([VIEW[0],L.scaleLabelY])[1],i===0?'left':'right'));
  return {type:'group',children:ch};
});
// signal marks
custom(SIGNAL_START.map((s,i)=>[s,i]),(p,api)=>{
  const i=p.dataIndex, a=api.coord([SIGNAL_START[i],L.sigTop]), b=api.coord([SIGNAL_END[i],L.sigBot]), m=api.coord([VIEW[0],L.scaleY])[1];
  const w=Math.max(b[0]-a[0],2.5), ch=[];
  if(SIGNAL_FWD[i]>0) ch.push({type:'rect',shape:{x:a[0],y:a[1],width:w,height:m-a[1]},style:{fill:'none',stroke:heat(SIGNAL_FWD[i]),lineWidth:1.2}});
  if(SIGNAL_REV[i]>0) ch.push({type:'rect',shape:{x:a[0],y:m,width:w,height:b[1]-m},style:{fill:'none',stroke:heat(SIGNAL_REV[i]),lineWidth:1.2}});
  return {type:'group',children:ch};
});
// genes
custom(GENE_START.map((s,i)=>[s,i]),(p,api)=>{
  const i=p.dataIndex, Y=v=>api.coord([VIEW[0],v])[1];
  const x0=api.coord([VIEW[0],0])[0];
  const xs=api.coord([GENE_START[i],0])[0], xe=api.coord([GENE_END[i],0])[0];
  const hT=Y(L.geneHeadTop), hB=Y(L.geneHeadBot), bT=Y(L.geneBodyTop), bB=Y(L.geneBodyBot), yc=(bT+bB)/2, H=11;
  let pts;
  if(GENE_START[i]<VIEW[0]) pts=[[x0,bT],[xe,bT],[xe,bB],[x0,bB]];
  else if(xe-xs<=H) pts=[[xs,yc],[xe,hT],[xe,hB]];
  else pts=[[xs,yc],[xs+H,hT],[xs+H,bT],[xe,bT],[xe,bB],[xs+H,bB],[xs+H,hB]];
  const fill=GENE_HIGHLIGHT[i]?'#000':'#fff';
  return {type:'group',children:[
    {type:'polygon',shape:{points:pts},style:{fill,stroke:'#000',lineWidth:1}},
    {type:'line',shape:{x1:xe,y1:hT,x2:xe,y2:hB},style:{stroke:'#000',lineWidth:1}}]};
});
// gene labels
custom(GENE_START.map((s,i)=>[s,i]),(p,api)=>{
  const i=p.dataIndex, x0=api.coord([VIEW[0],0])[0], x1=api.coord([VIEW[1],0])[0];
  const xs=Math.max(api.coord([GENE_START[i],0])[0],x0), xe=Math.min(api.coord([GENE_END[i],0])[0],x1);
  let cx=(xs+xe)/2; const hw=GENE_NAMES[i].length*3.01;
  if(GENE_START[i]>=VIEW[0]&&GENE_END[i]<=VIEW[1]) cx=Math.min(cx,x1-hw);
  return txt(GENE_NAMES[i],cx,api.coord([VIEW[0],L.labelY[GENE_LABEL_LEVEL[i]]])[1],'center');
});
// features
custom(FEAT_START.map((s,i)=>[s,i]),(p,api)=>{
  const i=p.dataIndex, a=api.coord([FEAT_START[i],L.featTop]), b=api.coord([FEAT_END[i],L.featBot]);
  const ch=[{type:'rect',shape:{x:a[0],y:a[1],width:b[0]-a[0],height:b[1]-a[1]},style:{fill:'none',stroke:'#ff0000',lineWidth:1.3}}];
  if(FEAT_LABEL[i]) ch.push(txt(FEAT_LABEL[i],(a[0]+b[0])/2,api.coord([VIEW[0],L.featLabelY])[1],'center'));
  return {type:'group',children:ch};
});
// region track
custom(REGION_START.map((s,i)=>[s,i]),(p,api)=>{
  const i=p.dataIndex, Y=v=>api.coord([VIEW[0],v])[1];
  const x0=api.coord([VIEW[0],0])[0], x1=api.coord([VIEW[1],0])[0];
  const xs=api.coord([REGION_START[i],0])[0], xe=api.coord([REGION_END[i],0])[0];
  return {type:'group',children:[
    {type:'line',shape:{x1:x0,y1:Y(L.regionLineY),x2:x1,y2:Y(L.regionLineY)},style:{stroke:'#000',lineWidth:1.3}},
    {type:'line',shape:{x1:xs,y1:Y(L.regionLineY),x2:xs,y2:Y(L.regionTop)},style:{stroke:'#ff0000',lineWidth:1}},
    {type:'rect',shape:{x:xs,y:Y(L.regionTop),width:xe-xs,height:Y(L.regionBot)-Y(L.regionTop)},style:{fill:'#ff0000'}},
    txt(REGION_LABEL[i],xe-2,Y(L.regionLabelY),'left')]};
});
// bars
custom(BAR_START.map((s,i)=>[s,i]),(p,api)=>{
  const i=p.dataIndex, a=api.coord([BAR_START[i],L.barTop[i]]), b=api.coord([BAR_END[i],L.barTop[i]+L.barH[i]]);
  return {type:'rect',shape:{x:a[0],y:a[1],width:b[0]-a[0],height:b[1]-a[1]},style:{fill:BAR_COLORS[i]}};
});
// plus marks
custom(PLUS_POS.map((s,i)=>[s,i]),(p,api)=>{
  const i=p.dataIndex, a=api.coord([PLUS_POS[i],L.plusY[i]]);
  return txt('+',a[0],a[1],'center');
});

chart.setOption({animation:false,grid:grids,xAxis:xAxes,yAxis:yAxes,series});
</script></body></html>
